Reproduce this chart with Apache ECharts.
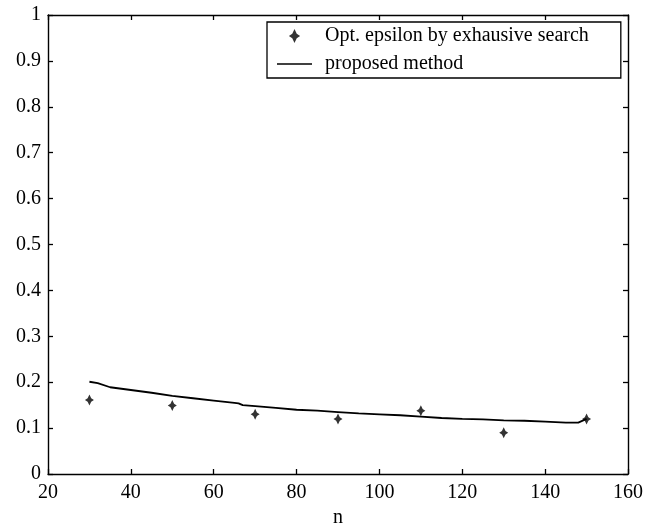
<!DOCTYPE html>
<html>
<head>
<meta charset="utf-8">
<script src="https://cdn.jsdelivr.net/npm/echarts@6/dist/echarts.min.js"></script>
<style>html,body{margin:0;padding:0;background:#fff;}#c{width:655px;height:525px;}</style>
</head>
<body>
<div id="c"></div>
<script>
var seriesNames = ['Opt. epsilon by exhausive search', 'proposed method'];
var searchN = [30, 50, 70, 90, 110, 130, 150];
var searchEps = [0.161, 0.149, 0.130, 0.120, 0.138, 0.090, 0.120];
var methodN = [30, 32, 35, 40, 45, 50, 55, 60, 65, 66, 67, 70, 75, 80, 85, 90, 95, 100, 105, 110, 115, 120, 125, 130, 135, 140, 145, 148, 150];
var methodEps = [0.201, 0.198, 0.189, 0.183, 0.177, 0.170, 0.165, 0.160, 0.155, 0.154, 0.150, 0.148, 0.144, 0.140, 0.138, 0.135, 0.132, 0.130, 0.128, 0.125, 0.122, 0.120, 0.119, 0.117, 0.116, 0.114, 0.112, 0.112, 0.120];
var xTicks = [20, 40, 60, 80, 100, 120, 140, 160];
var yTicks = [0, 0.1, 0.2, 0.3, 0.4, 0.5, 0.6, 0.7, 0.8, 0.9, 1];

var font = 'Liberation Serif';
var fs = 20;
var starPath = 'path://M0,-5 L1.6,-1.6 L4,0 L1.6,1.6 L0,5 L-1.6,1.6 L-4,0 L-1.6,-1.6 Z';

function zip(a, b) { return a.map(function (v, i) { return [v, b[i]]; }); }

var axisCommon = {
  axisLine: { show: true, onZero: false, lineStyle: { color: '#000', width: 1.4 } },
  axisTick: { show: true, inside: true, length: 5, lineStyle: { color: '#000', width: 1.3 } },
  splitLine: { show: false }
};

var chart = echarts.init(document.getElementById('c'), null, { renderer: 'canvas' });
chart.setOption({
  backgroundColor: '#fff',
  animation: false,
  textStyle: { fontFamily: font },
  grid: { left: 48, right: 27, top: 15, bottom: 51, containLabel: false, outerBoundsMode: 'none' },
  legend: {
    orient: 'vertical',
    left: 267,
    top: 22,
    padding: [4, 32, 4, 10],
    itemGap: 8,
    itemWidth: 35,
    itemHeight: 14,
    borderColor: '#000',
    borderWidth: 1.3,
    backgroundColor: '#fff',
    textStyle: { fontFamily: font, fontSize: fs, color: '#000', padding: [0, 0, 0, 8] },
    data: [
      { name: seriesNames[0], icon: starPath },
      { name: seriesNames[1], icon: 'path://M0,0 L35,0 L35,1.6 L0,1.6 Z' }
    ]
  },
  xAxis: [
    Object.assign({
      type: 'value', min: 20, max: 160, interval: 20, position: 'bottom',
      name: 'n', nameLocation: 'middle', nameGap: 32,
      nameTextStyle: { fontFamily: font, fontSize: fs, color: '#000' },
      axisLabel: { fontFamily: font, fontSize: fs, color: '#000', margin: 9,
        customValues: xTicks }
    }, axisCommon),
    Object.assign({
      type: 'value', min: 20, max: 160, interval: 20, position: 'top',
      axisLabel: { show: false }
    }, axisCommon)
  ],
  yAxis: [
    Object.assign({
      type: 'value', min: 0, max: 1, interval: 0.1, position: 'left',
      axisLabel: { fontFamily: font, fontSize: fs, color: '#000', margin: 7,
        formatter: function (v) { return String(Math.round(v * 10) / 10); } }
    }, axisCommon),
    Object.assign({
      type: 'value', min: 0, max: 1, interval: 0.1, position: 'right',
      axisLabel: { show: false }
    }, axisCommon)
  ],
  series: [
    {
      name: seriesNames[0], type: 'scatter', xAxisIndex: 0, yAxisIndex: 0,
      symbol: starPath, symbolSize: [9, 11],
      itemStyle: { color: '#000' },
      data: zip(searchN, searchEps), z: 3
    },
    {
      name: seriesNames[1], type: 'line', xAxisIndex: 0, yAxisIndex: 0,
      showSymbol: false, symbol: 'none',
      lineStyle: { color: '#000', width: 1.8 },
      itemStyle: { color: '#000' },
      data: zip(methodN, methodEps), z: 2
    }
  ]
});
</script>
</body>
</html>
